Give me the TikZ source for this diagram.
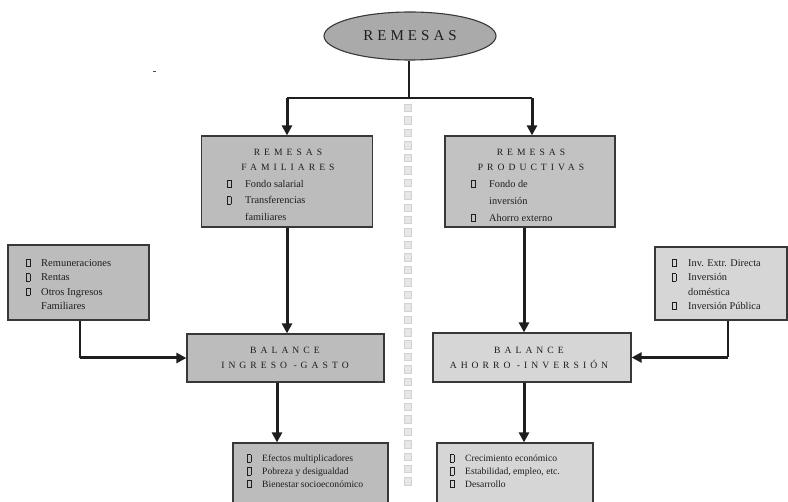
\documentclass[tikz,border=0pt]{standalone}
\usepackage{fontspec}
\setmainfont{Liberation Serif}
\newfontfamily\spc[LetterSpace=42]{Liberation Serif}
\newfontfamily\bigspc[LetterSpace=27]{Liberation Serif}
\usetikzlibrary{arrows.meta,shapes.geometric}
\definecolor{dfill}{HTML}{BCBCBC}
\definecolor{mfill}{HTML}{C2C2C2}
\definecolor{lfill}{HTML}{D6D6D6}
\definecolor{efill}{HTML}{AAAAAA}
\definecolor{bord}{HTML}{383838}
\definecolor{txtc}{HTML}{1E1E1E}
\definecolor{arrc}{HTML}{1E1E1E}
\definecolor{sqd}{HTML}{D2D2D2}
\definecolor{sqf}{HTML}{E6E6E6}
\newcommand\blt{{\setlength{\fboxsep}{0pt}\setlength{\fboxrule}{0.5pt}\fbox{\rule{0pt}{7pt}\hspace{3pt}}}}
\begin{document}
\begin{tikzpicture}[x=1pt,y=-1pt,
  box/.style={draw=bord,line width=1.2pt,inner sep=0pt},
  ttl/.style={font=\fontsize{9.6}{15.7}\spc,align=center,text=txtc,inner sep=0pt},
  lst/.style={text=txtc,inner sep=0pt,anchor=base west},
  thk/.style={line width=3pt,draw=arrc,-{Triangle[length=10pt,width=10pt]}},
  thn/.style={line width=1.1pt,draw=arrc},
  sq/.style={draw=sqd,fill=sqf,line width=0.6pt,minimum size=7.5pt,inner sep=0pt}]
\useasboundingbox (0,0) rectangle (788,502);
% ellipse
\node[ellipse,draw=bord,line width=1.1pt,fill=efill,minimum width=172pt,minimum height=48pt,inner sep=0pt,text=txtc,font=\fontsize{15}{18}\bigspc] (ell) at (410,36) {REMESAS};
% boxes
\node[box,fill=dfill,minimum width=171pt,minimum height=91pt] (rf) at (287,181.5) {};
\node[box,fill=mfill,minimum width=170pt,minimum height=91pt] (rp) at (530,181.5) {};
\node[box,fill=dfill,minimum width=197pt,minimum height=48pt] (bl) at (285.5,358) {};
\node[box,fill=lfill,minimum width=198pt,minimum height=49pt] (br) at (532,357.5) {};
\node[box,fill=dfill,minimum width=141pt,minimum height=75pt] (lin) at (78.5,282.5) {};
\node[box,fill=lfill,minimum width=132pt,minimum height=73pt] (rin) at (721,283.5) {};
\node[box,fill=dfill,minimum width=155pt,minimum height=60pt] (bol) at (310.5,473) {};
\node[box,fill=lfill,minimum width=156pt,minimum height=60pt] (bor) at (515,473) {};
% central squares
\foreach \i in {0,...,30} \node[sq] (sq\i) at (408,{108+12.45*\i}) {};
\fill[black!70] (152.5,71) rectangle (155.5,72.5);
% texts
\node[ttl] (rft) at (288,160) {REMESAS\\FAMILIARES};
\node[ttl] (rpt) at (531,160) {REMESAS\\PRODUCTIVAS};
\node[lst,font=\fontsize{10.3}{16.5}\selectfont] (rfl) at (227,187.5) {\begin{tabular}[t]{@{}l@{\hspace{14pt}}l@{}}\blt & Fondo salarial\\ \blt & Transferencias\\ & familiares\end{tabular}};
\node[lst,font=\fontsize{10.3}{17}\selectfont] (rpl) at (471,187.5) {\begin{tabular}[t]{@{}l@{\hspace{14pt}}l@{}}\blt & Fondo de\\ & inversión\\ \blt & Ahorro externo\end{tabular}};
\node[lst,font=\fontsize{10.5}{14.3}\selectfont] (linl) at (26,266.5) {\begin{tabular}[t]{@{}l@{\hspace{11pt}}l@{}}\blt & Remuneraciones\\ \blt & Rentas\\ \blt & Otros Ingresos\\ & Familiares\end{tabular}};
\node[lst,font=\fontsize{10.3}{14.3}\selectfont] (rinl) at (672,266.5) {\begin{tabular}[t]{@{}l@{\hspace{12pt}}l@{}}\blt & Inv. Extr. Directa\\ \blt & Inversión\\ & doméstica\\ \blt & Inversión Pública\end{tabular}};
\node[ttl] (blt) at (285,358) {BALANCE\\INGRESO -GASTO};
\node[ttl] (brt) at (529,358) {BALANCE\\AHORRO -INVERSIÓN};
\node[lst,font=\fontsize{9.6}{12.7}\selectfont] (boll) at (247,462) {\begin{tabular}[t]{@{}l@{\hspace{11pt}}l@{}}\blt & Efectos multiplicadores\\ \blt & Pobreza y desigualdad\\ \blt & Bienestar socioeconómico\end{tabular}};
\node[lst,font=\fontsize{9.6}{12.7}\selectfont] (borl) at (450,462) {\begin{tabular}[t]{@{}l@{\hspace{11pt}}l@{}}\blt & Crecimiento económico\\ \blt & Estabilidad, empleo, etc.\\ \blt & Desarrollo\end{tabular}};
% connectors
\coordinate (jn) at (409,98);
\coordinate (jl) at (287,98);
\coordinate (jr) at (532,98);
\coordinate (xr) at (524,0);
\coordinate (xl) at (277,0);
\coordinate (li) at (80,358);
\coordinate (ri) at (728,357.5);
\draw[thn] (ell.south -| jn) -- (jn);
\draw[thn] (jl) -- (jr);
\draw[thk] (jl) -- (rf.north -| jl);
\draw[thk] (jr) -- (rp.north -| jr);
\draw[thk] (rf.south) -- (rf.south |- bl.north);
\draw[thk] (rp.south -| xr) -- (br.north -| xr);
\draw[thk] (bl.south -| xl) -- (bol.north -| xl);
\draw[thk] (br.south -| xr) -- (bor.north -| xr);
\draw[thn] (lin.south -| li) -- (li);
\draw[thk] (li) -- (bl.west |- li);
\draw[thn] (rin.south -| ri) -- (ri);
\draw[thk] (ri) -- (br.east |- ri);
\end{tikzpicture}
\end{document}
